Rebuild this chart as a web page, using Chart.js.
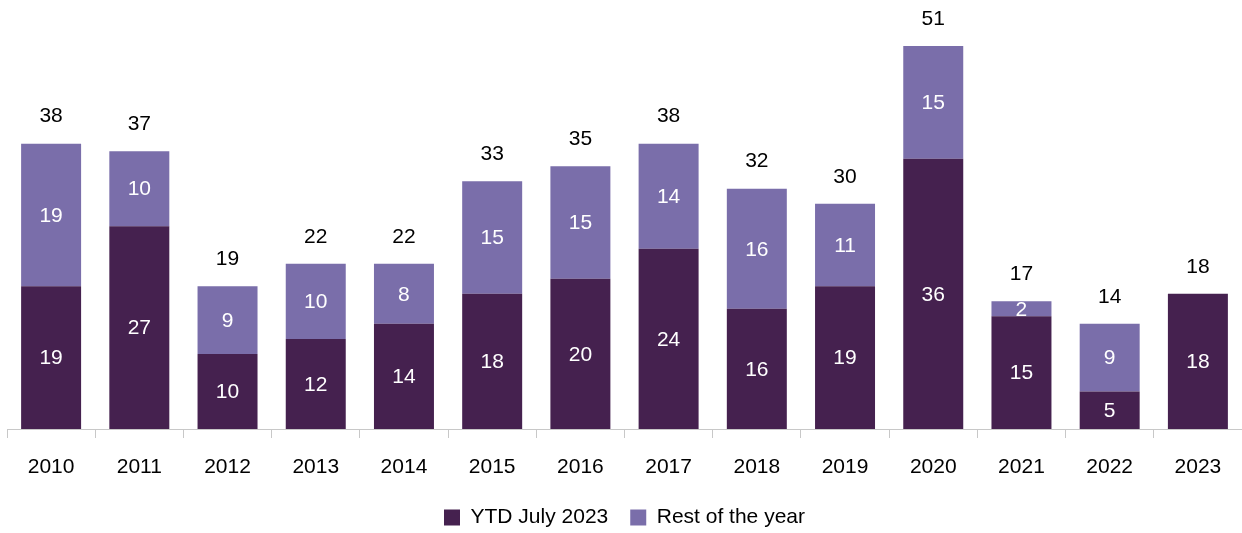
<!DOCTYPE html>
<html>
<head>
<meta charset="utf-8">
<script src="https://cdn.jsdelivr.net/npm/chart.js@4.4.1/dist/chart.umd.min.js"></script>
<style>
  html, body { margin: 0; padding: 0; background: #fff; }
  #wrap { width: 1242px; height: 533px; }
</style>
</head>
<body>
<div id="wrap"><canvas id="myChart"></canvas></div>
<script>
// years and the two stacked series
var years = ['2010','2011','2012','2013','2014','2015','2016','2017','2018','2019','2020','2021','2022','2023'];
var ytd = [19, 27, 10, 12, 14, 18, 20, 24, 16, 19, 36, 15, 5, 18];
var restOfYear = [19, 10, 9, 10, 8, 15, 15, 14, 16, 11, 15, 2, 9, null];
var totals = [38, 37, 19, 22, 22, 33, 35, 38, 32, 30, 51, 17, 14, 18];

var font = "'Liberation Sans', Arial, sans-serif";

// draws numbers inside the segments and totals on top
var labelPlugin = {
  id: 'labels',
  afterDatasetsDraw: function(chart) {
    var ctx = chart.ctx;
    ctx.save();
    ctx.font = '21px ' + font;
    ctx.textAlign = 'center';
    ctx.textBaseline = 'middle';
    chart.data.datasets.forEach(function(ds, di) {
      var meta = chart.getDatasetMeta(di);
      meta.data.forEach(function(bar, i) {
        if (ds.data[i] == null) return;
        ctx.fillStyle = '#ffffff';
        ctx.fillText(ds.data[i], bar.x, (bar.y + bar.base) / 2 + 1);
      });
    });
    var top = chart.getDatasetMeta(1);
    var bottom = chart.getDatasetMeta(0);
    ctx.fillStyle = '#000000';
    totals.forEach(function(t, i) {
      var b = restOfYear[i] == null ? bottom.data[i] : top.data[i];
      ctx.fillText(t, b.x, b.y - 27);
    });
    ctx.restore();
  }
};

var ctx = document.getElementById("myChart").getContext('2d');
var myChart = new Chart(ctx, {
  type: 'bar',
  data: {
    labels: years,
    datasets: [{
      label: 'YTD July 2023',
      backgroundColor: '#45214F',
      data: ytd
    }, {
      label: 'Rest of the year',
      backgroundColor: '#7A6EAA',
      data: restOfYear
    }]
  },
  options: {
    responsive: true,
    maintainAspectRatio: false,
    animation: false,
    layout: { padding: { left: 7, right: 0, top: 46, bottom: -5 } },
    datasets: { bar: { categoryPercentage: 1, barPercentage: 0.68 } },
    scales: {
      x: {
        stacked: true,
        grid: { display: true, drawOnChartArea: false, color: '#c8c8c8', tickLength: 9, offset: true },
        border: { color: '#c8c8c8' },
        ticks: { color: '#000', font: { family: font, size: 21 }, padding: 17 },
        afterFit: function(scale) { scale.height = 56; }
      },
      y: {
        stacked: true,
        display: false,
        min: 0,
        max: 51
      }
    },
    plugins: {
      legend: {
        position: 'bottom',
        labels: {
          color: '#000',
          font: { family: font, size: 21 },
          boxWidth: 16,
          boxHeight: 16,
          padding: 22
        }
      },
      tooltip: { enabled: false }
    }
  },
  plugins: [labelPlugin]
});
</script>
</body>
</html>
